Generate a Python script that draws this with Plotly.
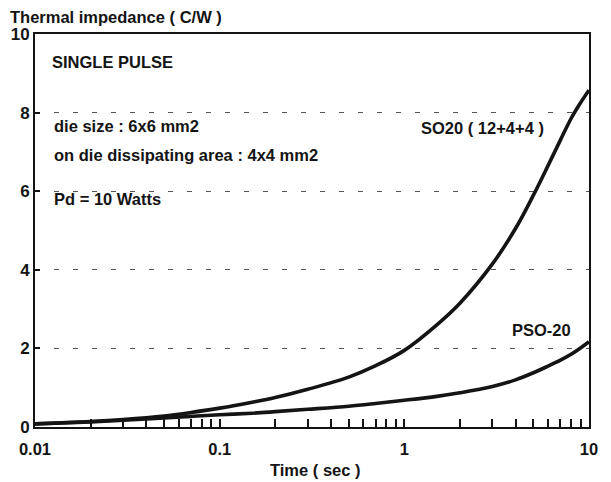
import plotly.graph_objects as go

# ---- data ----
time_s = [0.01, 0.02, 0.03, 0.05, 0.07, 0.1, 0.15, 0.2, 0.3, 0.5, 0.7,
          1, 1.5, 2, 3, 4, 5, 6, 7, 8, 9, 10]
so20 = [0.08, 0.14, 0.19, 0.28, 0.37, 0.48, 0.63, 0.75, 0.96, 1.27, 1.56,
        1.95, 2.6, 3.15, 4.15, 5.05, 5.9, 6.65, 7.3, 7.85, 8.25, 8.57]
pso20 = [0.08, 0.13, 0.17, 0.23, 0.27, 0.31, 0.35, 0.39, 0.45, 0.53, 0.6,
         0.68, 0.78, 0.87, 1.03, 1.2, 1.38, 1.55, 1.7, 1.85, 2.01, 2.17]
series_names = ["SO20 ( 12+4+4 )", "PSO-20"]

x_decades = [0.01, 0.1, 1, 10]
x_decade_labels = ["0.01", "0.1", "1", "10"]
y_ticks = [0, 2, 4, 6, 8, 10]
y_tick_labels = ["0", "2", "4", "6", "8", "10"]

y_title = "Thermal impedance ( C/W )"
x_title = "Time ( sec )"
notes = ["SINGLE PULSE", "die size : 6x6 mm2",
         "on die dissipating area : 4x4 mm2", "Pd = 10 Watts"]

# ---- figure ----
FONT = "Liberation Sans, Arial, sans-serif"
INK = "#141414"
FS = 16.5

# all 1..9 x 10^k tick positions, labelled only at decades
x_tickvals, x_ticktext = [], []
for d, lab in zip(x_decades[:-1], x_decade_labels[:-1]):
    for m in range(1, 10):
        x_tickvals.append(round(d * m, 6))
        x_ticktext.append(lab if m == 1 else "")
x_tickvals.append(x_decades[-1])
x_ticktext.append(x_decade_labels[-1])

fig = go.Figure()
for name, vals in zip(series_names, [so20, pso20]):
    fig.add_trace(go.Scatter(
        x=time_s, y=vals, mode="lines", name=name,
        line=dict(color=INK, width=3.6, shape="spline", smoothing=1.0),
        showlegend=False, hoverinfo="skip"))

# page shows the figure offset by the body margin
OFF = 8
W, H = 611, 482
# wanted plot box on screen
SX0, SX1, SY0, SY1 = 35, 589, 34, 427
L = SX0 - OFF
T = SY0 - OFF
R = W - (SX1 - OFF)
B = H - (SY1 - OFF)
pw, ph = SX1 - SX0, SY1 - SY0


def px(xp):
    return (xp - SX0) / pw


def py(yp):
    return (SY1 - yp) / ph


ann = []
ann.append(dict(text=y_title, x=px(8), y=py(17), xanchor="left", yanchor="middle"))
ann.append(dict(text=x_title, x=px(315), y=py(470), xanchor="center", yanchor="middle"))
note_pos = [(50, 62), (52, 126), (52, 155), (52, 199)]
for t, (xx, yy) in zip(notes, note_pos):
    ann.append(dict(text=t, x=px(xx), y=py(yy), xanchor="left", yanchor="middle"))
ann.append(dict(text=series_names[0], x=px(419), y=py(128), xanchor="left",
                yanchor="middle"))
ann.append(dict(text=series_names[1], x=px(510), y=py(330), xanchor="left",
                yanchor="middle"))
for a in ann:
    a.update(xref="paper", yref="paper", showarrow=False,
             font=dict(family=FONT, color=INK, size=FS, weight="bold"))

fig.update_layout(
    width=W, height=H,
    margin=dict(l=L, r=R, t=T, b=B, autoexpand=False),
    paper_bgcolor="white", plot_bgcolor="white",
    font=dict(family=FONT, color=INK, size=16),
    annotations=ann,
    xaxis=dict(type="log", range=[-2, 1], tickvals=x_tickvals, ticktext=x_ticktext,
               ticks="inside", ticklen=8, tickwidth=1.5, tickcolor=INK,
               ticklabelstandoff=6,
               showgrid=False, zeroline=False,
               showline=True, linewidth=2, linecolor=INK, mirror=True,
               tickfont=dict(size=16.5, weight="bold", family=FONT, color=INK)),
    yaxis=dict(range=[0, 10], tickvals=y_ticks, ticktext=y_tick_labels,
               ticks="inside", ticklen=5, tickwidth=1.5, tickcolor=INK,
               showgrid=True, gridcolor="#555555", gridwidth=1, griddash="5px,14px",
               zeroline=False,
               showline=True, linewidth=2, linecolor=INK, mirror=True,
               tickfont=dict(size=17, weight="bold", family=FONT, color=INK)),
)

fig.write_html("out.html")
